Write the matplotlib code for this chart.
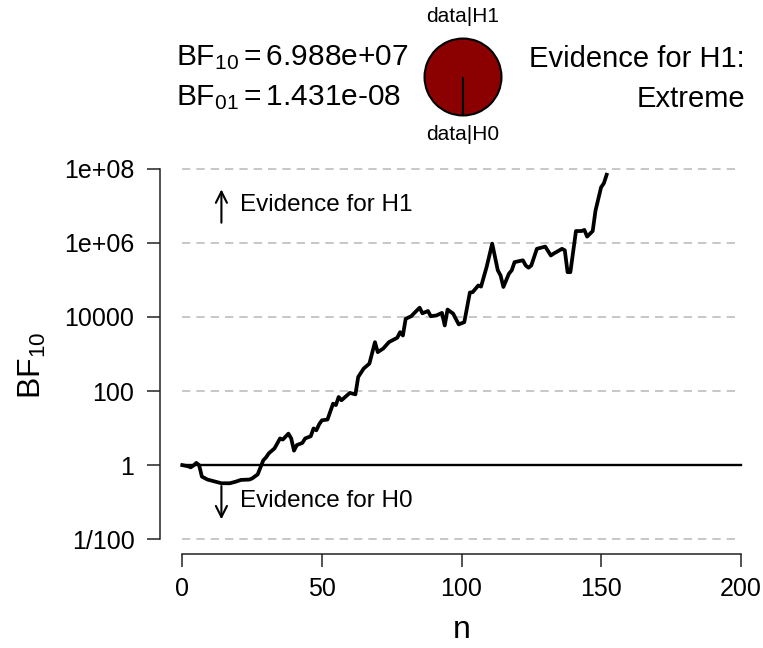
import numpy as np
import matplotlib
matplotlib.use("Agg")
import matplotlib.pyplot as plt

plt.rcParams['font.family'] = ['Liberation Sans', 'DejaVu Sans']
plt.rcParams['mathtext.fontset'] = 'custom'
plt.rcParams['mathtext.rm'] = 'Liberation Sans'
plt.rcParams['mathtext.it'] = 'Liberation Sans:italic'

# sequential Bayes factor (log10 scale)
n_obs = [0, 2, 3, 4, 5, 6, 7, 9, 12, 14, 17, 19, 21, 24, 25, 27, 28, 29, 30,
         31, 33, 35, 36, 38, 39, 40, 41, 43, 44, 46, 47, 48, 49, 50, 52, 54,
         55, 56, 57, 60, 62, 63, 65, 67, 69, 70, 72, 74, 77, 78, 79, 80, 82,
         83, 85, 86, 88, 89, 91, 93, 94, 95, 97, 99, 101, 103, 104, 106, 107,
         109, 111, 113, 114, 115, 117, 118, 119, 122, 123, 124, 125, 127, 129,
         130, 132, 133, 136, 137, 138, 139, 141, 143, 144, 145, 147, 148, 150,
         151, 152]
log_bf = [0.0, -0.03, -0.06, -0.01, 0.06, 0.0, -0.31, -0.39, -0.45, -0.49,
          -0.49, -0.45, -0.40, -0.39, -0.36, -0.25, -0.06, 0.13, 0.21,
          0.32, 0.45, 0.72, 0.69, 0.85, 0.72, 0.39, 0.54, 0.60, 0.72, 0.78,
          0.99, 0.94, 1.10, 1.21, 1.23, 1.66, 1.62, 1.84, 1.75, 1.95, 1.91,
          2.38, 2.61, 2.74, 3.32, 3.05, 3.15, 3.32, 3.44, 3.59, 3.50, 3.95,
          4.02, 4.10, 4.25, 4.10, 4.16, 4.02, 4.04, 4.11, 3.77, 4.20, 4.09,
          3.80, 3.86, 4.66, 4.67, 4.85, 4.82, 5.35, 5.98, 5.26, 5.12, 4.81,
          5.17, 5.26, 5.48, 5.53, 5.39, 5.33, 5.39, 5.84, 5.88, 5.90, 5.66,
          5.71, 5.84, 5.80, 5.21, 5.21, 6.32, 6.32, 6.35, 6.17, 6.32, 6.87,
          7.50, 7.61, 7.84]

y_ticks = [1e-2, 1, 1e2, 1e4, 1e6, 1e8]
y_labels = ['1/100', '1', '100', '10000', '1e+06', '1e+08']
x_ticks = [0, 50, 100, 150, 200]
bf10 = 6.988e+07
bf01 = 1.431e-08
evidence = 'Extreme'

W, H = 763, 648
fig = plt.figure(figsize=(W / 100, H / 100), dpi=100)
ax = fig.add_axes([160 / W, 1 - 554 / H, 603 / W, 400 / H])

ax.set_yscale('log')
ax.set_xlim(-8, 208)
ax.set_ylim(10 ** -2.4, 10 ** 8.4)

# dashed reference lines and the BF = 1 line
for v in y_ticks:
    if v == 1:
        continue
    ax.plot([0, 200], [v, v], color='#BDBDBD', lw=1.2, ls=(0, (5.0, 3.6)), zorder=1)
ax.plot([0, 200], [1, 1], color='black', lw=1.7, zorder=2)

ax.plot(n_obs, 10 ** np.array(log_bf), color='black', lw=2.7,
        solid_joinstyle='round', zorder=3)

for s in ['top', 'right']:
    ax.spines[s].set_visible(False)
ax.spines['left'].set_bounds(1e-2, 1e8)
ax.spines['bottom'].set_bounds(0, 200)
for s in ['left', 'bottom']:
    ax.spines[s].set_linewidth(1.1)
    ax.spines[s].set_color('#222222')

ax.set_yticks(y_ticks)
ax.set_yticklabels(y_labels)
ax.yaxis.set_minor_locator(matplotlib.ticker.NullLocator())
ax.set_xticks(x_ticks)
ax.tick_params(axis='both', length=9.4, width=1.1, labelsize=18, color='#222222')
ax.tick_params(axis='y', pad=9)
ax.tick_params(axis='x', pad=7)

# evidence arrows
ax.annotate('', xy=(14, 10 ** 7.52), xytext=(14, 10 ** 6.47),
            arrowprops=dict(arrowstyle='->', lw=1.5, color='black', mutation_scale=20))
ax.text(20.5, 10 ** 7.01, 'Evidence for H1', ha='left', va='center', fontsize=17.5)
ax.annotate('', xy=(14, 10 ** -1.54), xytext=(14, 10 ** -0.49),
            arrowprops=dict(arrowstyle='->', lw=1.5, color='black', mutation_scale=20))
ax.text(20.5, 10 ** -0.96, 'Evidence for H0', ha='left', va='center', fontsize=17.5)

fig.text(462 / W, 1 - 630 / H, 'n', ha='center', va='center', fontsize=23)
fig.text(32 / W, 1 - 365 / H, r'BF$_{10}$', ha='center', va='center',
         rotation=90, fontsize=23)

# header: BF values, pie and evidence category
fig.text(176 / W, 1 - 65 / H, r'BF$_{10}=$%.3e' % bf10, ha='left', va='baseline',
         fontsize=21.5)
fig.text(176 / W, 1 - 105 / H, r'BF$_{01}=$%.3e' % bf01, ha='left', va='baseline',
         fontsize=21.5)
fig.text(745 / W, 1 - 67 / H, 'Evidence for H1:', ha='right', va='baseline', fontsize=21)
fig.text(745 / W, 1 - 107 / H, evidence, ha='right', va='baseline', fontsize=21)

fig.text(463 / W, 1 - 17 / H, 'data|H1', ha='center', va='center', fontsize=15)
fig.text(463 / W, 1 - 135 / H, 'data|H0', ha='center', va='center', fontsize=15)

ax_pie = fig.add_axes([(463 - 40) / W, 1 - (77 + 40) / H, 80 / W, 80 / H])
ax_pie.pie([bf10 / (1 + bf10), 1 / (1 + bf10)], colors=['#8B0000', 'white'],
           startangle=-90, wedgeprops=dict(edgecolor='black', linewidth=1.5))
ax_pie.set_xlim(-1.04, 1.04)
ax_pie.set_ylim(-1.04, 1.04)
ax_pie.set_aspect('equal')
ax_pie.axis('off')

fig.savefig('out.png', dpi=100)
